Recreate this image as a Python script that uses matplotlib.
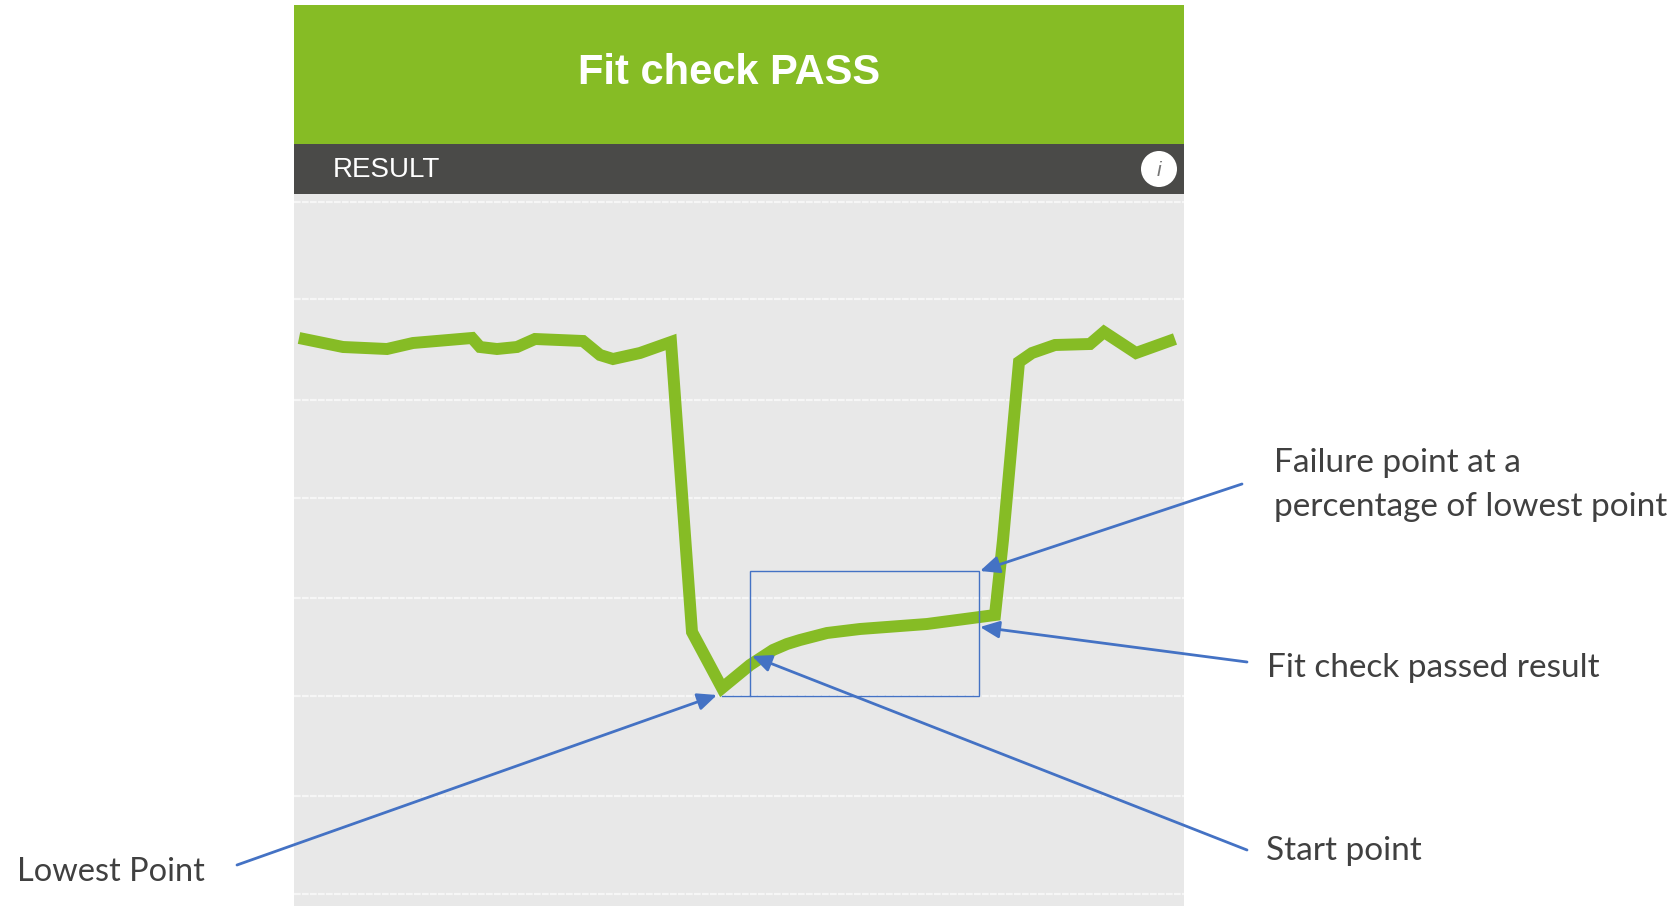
import matplotlib
matplotlib.use("Agg")
import matplotlib.pyplot as plt
from matplotlib.patches import Rectangle, Circle

# everything, in image pixels
trace_x = [299, 343, 387, 413, 472, 480, 497, 517, 535, 583, 600, 613, 640, 671,
           692, 722, 750, 773, 787, 800, 827, 860, 927, 995, 1003, 1019, 1032, 1055, 1090,
           1104, 1136, 1175]
trace_y = [338, 347, 349, 343, 338, 347, 349, 347, 339, 341, 355, 359, 353, 342,
           632, 688, 665, 650, 644, 640, 633, 629, 624, 615, 540, 362, 353, 345, 344,
           332, 353, 339]
grid_y = [202, 299, 400, 498, 598, 696, 796, 894]

title = "Fit check PASS"
subtitle = "RESULT"
notes = ["Failure point at a\npercentage of lowest point", "Fit check passed result",
         "Start point", "Lowest Point"]
note_x = [1274, 1267, 1266, 17]
note_y = [485, 668, 851, 872]
note_size = [24, 24, 24, 23.4]
arrow_tail = [(1242, 484), (1247, 662), (1247, 850), (237, 865)]
arrow_tip = [(980, 571), (980, 627), (752, 656), (717, 695)]

GREEN = "#86bc25"
BLUE = "#4472c4"

fig = plt.figure(figsize=(16.8, 9.06), dpi=100)
ax = fig.add_axes([0, 0, 1, 1])
ax.set_xlim(0, 1680)
ax.set_ylim(906, 0)
ax.axis("off")

# panel
ax.add_patch(Rectangle((294, 194), 890, 712, color="#e8e8e8", lw=0))
ax.add_patch(Rectangle((294, 5), 890, 139, color=GREEN, lw=0))
ax.add_patch(Rectangle((294, 144), 890, 50, color="#4a4a48", lw=0))
ax.text(729, 73, title, color="white", fontsize=30, fontweight="bold",
        family="Liberation Sans", ha="center", va="center")
ax.text(333, 170, subtitle, color="white", fontsize=20,
        family="Liberation Sans", ha="left", va="center")
ax.add_patch(Circle((1159, 169), 18, color="white", lw=0))
ax.text(1159, 170, "i", color="#777777", fontsize=15, style="italic",
        family="Liberation Sans", ha="center", va="center")

for y in grid_y:
    ax.plot([294, 1184], [y, y], color="#f6f6f6", lw=1.6, ls=(0, (3, 0.6)))

ax.plot(trace_x, trace_y, color=GREEN, lw=8.6, solid_joinstyle="miter",
        solid_capstyle="butt")

# annotation box, drawn over the grid line it sits on
ax.add_patch(Rectangle((750, 571), 229, 125, fill=False, ec=BLUE, lw=1, zorder=3))
ax.plot([722, 750], [696, 696], color=BLUE, lw=1, zorder=3)

for tail, tip in zip(arrow_tail, arrow_tip):
    ax.annotate("", xy=tip, xytext=tail, zorder=4,
                arrowprops=dict(arrowstyle="-|>,head_length=0.9,head_width=0.4",
                                mutation_scale=13, color=BLUE, lw=2,
                                shrinkA=0, shrinkB=0))

for label, x, y, size in zip(notes, note_x, note_y, note_size):
    ax.text(x, y, label, color="#404040", fontsize=size, family="Lato",
            ha="left", va="center", linespacing=1.57)

fig.savefig("out.png", dpi=100, facecolor="white")
